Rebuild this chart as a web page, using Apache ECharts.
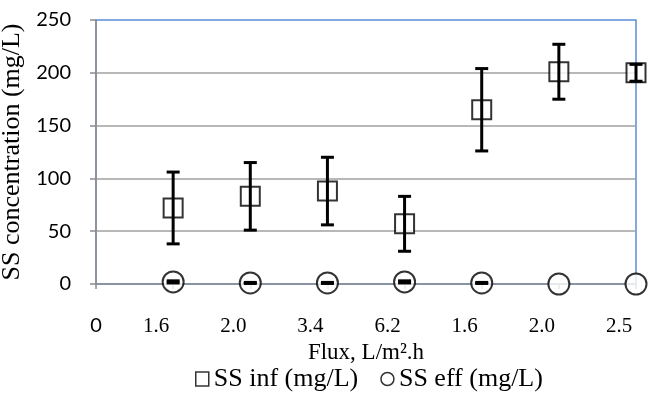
<!DOCTYPE html>
<html>
<head>
<meta charset="utf-8">
<script src="https://cdn.jsdelivr.net/npm/echarts@6/dist/echarts.min.js"></script>
<style>
  html, body { margin: 0; padding: 0; background: #fff; }
  #chart { width: 648px; height: 396px; }
</style>
</head>
<body>
<div id="chart"></div>
<script>
// x positions of the samples and the flux labels written under the axis
const POINT_INDEX = [1, 2, 3, 4, 5, 6, 7];
const FLUX_LABELS = ["0", "1.6", "2.0", "3.4", "6.2", "1.6", "2.0", "2.5"];

// SS influent (mg/L) and its standard deviation
const SS_INF = [72, 83, 88, 57, 165, 201, 200];
const SS_INF_SD = [34, 32, 32, 26, 39, 26, 8];

// SS effluent (mg/L) and its standard deviation
const SS_EFF = [2, 1, 1, 2, 1, 0, 0];
const SS_EFF_SD = [1, 0.5, 0.5, 1, 0.5, 0, 0];

const Y_TICKS = [0, 50, 100, 150, 200, 250];

const SERIF = "Liberation Serif";
const SANS = "Lato";

function toPoints(values) {
  return values.map((v, i) => [POINT_INDEX[i], v]);
}

function toErrorRows(values, sd) {
  return values.map((v, i) => [POINT_INDEX[i], v - sd[i], v + sd[i]]);
}

function renderErrorBar(params, api) {
  const x = api.value(0);
  const lo = api.value(1);
  const hi = api.value(2);
  if (hi === lo) {
    return null;
  }
  const top = api.coord([x, hi]);
  const bottom = api.coord([x, lo]);
  const half = 6.5;
  const style = { stroke: "#000", lineWidth: 3 };
  return {
    type: "group",
    children: [
      { type: "line", shape: { x1: top[0], y1: top[1], x2: bottom[0], y2: bottom[1] }, style },
      { type: "line", shape: { x1: top[0] - half, y1: top[1], x2: top[0] + half, y2: top[1] }, style },
      { type: "line", shape: { x1: bottom[0] - half, y1: bottom[1], x2: bottom[0] + half, y2: bottom[1] }, style },
    ],
  };
}

const chart = echarts.init(document.getElementById("chart"), null, { renderer: "canvas" });

chart.setOption({
  animation: false,
  backgroundColor: "#fff",
  grid: {
    left: 96,
    right: 12,
    top: 20,
    bottom: 112,
    outerBoundsMode: "none",
    show: true,
    borderColor: "#5a8ed8",
    borderWidth: 1.5,
    backgroundColor: "transparent",
  },
  legend: {
    left: 190,
    top: 361,
    itemWidth: 13,
    itemHeight: 14,
    itemGap: 22,
    textStyle: { fontFamily: SERIF, fontSize: 26, color: "#000" },
    itemStyle: { color: "#fff", borderColor: "#000", borderWidth: 1.5 },
    data: [
      { name: "SS inf (mg/L)", icon: "rect" },
      { name: "SS eff (mg/L)", icon: "circle" },
    ],
  },
  xAxis: {
    type: "value",
    min: 0,
    max: FLUX_LABELS.length - 1,
    interval: 1,
    name: "Flux, L/m\u00b2.h",
    nameLocation: "middle",
    nameGap: 56,
    nameTextStyle: { fontFamily: SERIF, fontSize: 23, color: "#000" },
    axisLine: { show: true, lineStyle: { color: "#8c8c8c", width: 1.5 } },
    axisTick: { show: true, length: 5, lineStyle: { color: "#8c8c8c", width: 1.5 } },
    splitLine: { show: false },
    axisLabel: {
      margin: 32,
      alignMinLabel: "center",
      alignMaxLabel: "center",
      fontFamily: SERIF,
      fontSize: 21,
      color: "#000",
      formatter(value) {
        const text = FLUX_LABELS[Math.round(value)] ?? "";
        return value === 0 ? `{z|${text}}` : `{s|${text}}`;
      },
      rich: {
        z: { fontFamily: SANS, fontSize: 20, color: "#000" },
        s: { fontFamily: SERIF, fontSize: 21, color: "#000", padding: [0, 34, 0, 0] },
      },
    },
  },
  yAxis: {
    type: "value",
    min: Y_TICKS[0],
    max: Y_TICKS[Y_TICKS.length - 1],
    interval: 50,
    name: "SS concentration (mg/L)",
    nameLocation: "middle",
    nameGap: 67,
    nameTextStyle: { fontFamily: SERIF, fontSize: 26, color: "#000" },
    axisLine: { show: true, lineStyle: { color: "#8c8c8c", width: 1.5 } },
    axisTick: { show: true, length: 6, lineStyle: { color: "#8c8c8c", width: 1.5 } },
    axisLabel: { margin: 25, fontFamily: SANS, fontSize: 20, color: "#000" },
    splitLine: {
      show: true,
      showMinLine: false,
      showMaxLine: false,
      lineStyle: { color: "#a0a0a0", width: 1.5 },
    },
  },
  series: [
    {
      name: "SS inf (mg/L)",
      type: "scatter",
      symbol: "rect",
      symbolSize: 19,
      clip: false,
      z: 2,
      itemStyle: { color: "#fff", borderColor: "#000", borderWidth: 2 },
      data: toPoints(SS_INF),
    },
    {
      name: "SS eff (mg/L)",
      type: "scatter",
      symbol: "circle",
      symbolSize: 21,
      clip: false,
      z: 2,
      itemStyle: { color: "#fff", borderColor: "#000", borderWidth: 2 },
      data: toPoints(SS_EFF),
    },
    {
      name: "inf error",
      type: "custom",
      clip: false,
      z: 3,
      encode: { x: 0, y: [1, 2] },
      renderItem: renderErrorBar,
      data: toErrorRows(SS_INF, SS_INF_SD),
    },
    {
      name: "eff error",
      type: "custom",
      clip: false,
      z: 3,
      encode: { x: 0, y: [1, 2] },
      renderItem: renderErrorBar,
      data: toErrorRows(SS_EFF, SS_EFF_SD),
    },
  ],
});
</script>
</body>
</html>
